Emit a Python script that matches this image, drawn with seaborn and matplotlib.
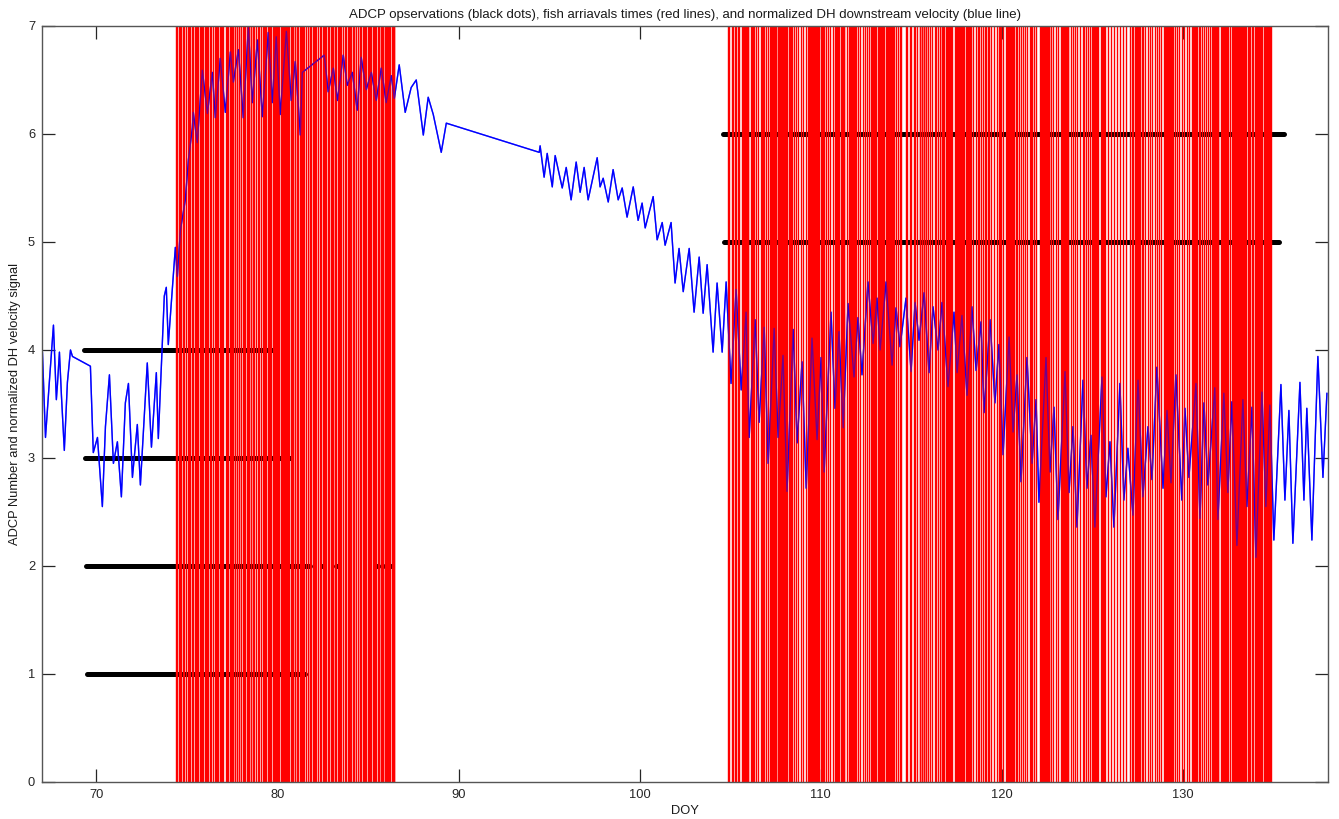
import matplotlib
matplotlib.use("Agg")
import matplotlib.pyplot as plt
import seaborn as sns

# ---- normalized DH downstream velocity (DOY, signal) ----
vel_doy = [
    67.02, 67.19, 67.41, 67.63, 67.79, 67.85, 67.96, 68.07, 68.23, 68.40,
    68.57, 68.68, 69.67, 69.83, 70.06, 70.33, 70.50, 70.72, 70.94, 71.16,
    71.38, 71.60, 71.77, 71.99, 72.26, 72.43, 72.81, 73.04, 73.31, 73.42,
    73.75, 73.86, 73.97, 74.19, 74.36, 74.47, 74.64, 74.91, 75.08, 75.30,
    75.35, 75.57, 75.85, 76.13, 76.40, 76.57, 76.84, 77.12, 77.40, 77.56,
    77.84, 78.11, 78.39, 78.61, 78.89, 79.16, 79.49, 79.71, 79.93, 80.15,
    80.49, 80.76, 80.98, 81.26, 81.37, 82.58, 82.80, 83.08, 83.31, 83.63,
    83.85, 84.13, 84.40, 84.62, 84.90, 85.18, 85.45, 85.73, 86.00, 86.28,
    86.45, 86.72, 87.05, 87.38, 87.66, 88.05, 88.32, 88.60, 89.04, 89.32,
    94.45, 94.50, 94.72, 94.89, 95.17, 95.33, 95.72, 95.94, 96.21, 96.49,
    96.71, 96.93, 97.15, 97.65, 97.81, 97.98, 98.26, 98.53, 98.81, 99.03,
    99.30, 99.64, 99.91, 100.13, 100.30, 100.74, 100.96, 101.24, 101.40, 101.73,
    101.95, 102.17, 102.40, 102.73, 103.00, 103.28, 103.50, 103.72, 104.05, 104.27,
    104.55, 104.77, 105.04, 105.32, 105.60, 105.87, 106.04, 106.37, 106.59, 106.87,
    107.09, 107.42, 107.64, 107.91, 108.13, 108.47, 108.69, 108.96, 109.19, 109.51,
    109.79, 110.01, 110.18, 110.56, 110.78, 111.00, 111.23, 111.50, 111.83, 112.05,
    112.27, 112.60, 112.88, 113.10, 113.27, 113.60, 113.93, 114.15, 114.37, 114.70,
    114.98, 115.20, 115.42, 115.70, 115.97, 116.19, 116.47, 116.69, 117.02, 117.35,
    117.52, 117.79, 118.07, 118.34, 118.57, 118.84, 119.01, 119.34, 119.61, 119.83,
    120.06, 120.39, 120.61, 120.83, 121.05, 121.38, 121.66, 121.88, 122.04, 122.43,
    122.65, 122.87, 123.09, 123.48, 123.70, 123.92, 124.14, 124.47, 124.69, 124.91,
    125.13, 125.52, 125.74, 125.96, 126.18, 126.51, 126.73, 126.95, 127.23, 127.51,
    127.78, 128.06, 128.28, 128.55, 128.89, 129.11, 129.33, 129.60, 129.93, 130.10,
    130.32, 130.71, 130.93, 131.15, 131.37, 131.75, 131.92, 132.25, 132.47, 132.69,
    132.97, 133.30, 133.52, 133.80, 134.02, 134.35, 134.57, 134.79, 135.01, 135.40,
    135.62, 135.84, 136.06, 136.45, 136.67, 136.83, 137.11, 137.44, 137.72, 137.94,
]
vel_signal = [
    3.98, 3.19, 3.72, 4.23, 3.54, 3.68, 3.98, 3.58, 3.07, 3.70,
    4.00, 3.94, 3.85, 3.05, 3.19, 2.55, 3.29, 3.77, 2.95, 3.15,
    2.64, 3.51, 3.69, 2.82, 3.31, 2.75, 3.88, 3.10, 3.79, 3.18,
    4.50, 4.58, 4.05, 4.56, 4.95, 4.68, 5.11, 5.39, 5.76, 6.06,
    6.20, 5.92, 6.59, 6.19, 6.57, 6.15, 6.70, 6.20, 6.76, 6.48,
    6.78, 6.15, 6.99, 6.29, 6.87, 6.16, 6.94, 6.29, 6.90, 6.18,
    6.95, 6.31, 6.67, 5.99, 6.57, 6.73, 6.39, 6.61, 6.31, 6.73,
    6.45, 6.57, 6.22, 6.71, 6.41, 6.57, 6.31, 6.61, 6.29, 6.54,
    6.33, 6.64, 6.20, 6.43, 6.50, 5.99, 6.34, 6.18, 5.83, 6.10,
    5.83, 5.89, 5.60, 5.82, 5.51, 5.80, 5.50, 5.69, 5.39, 5.74,
    5.46, 5.69, 5.39, 5.78, 5.51, 5.59, 5.37, 5.67, 5.39, 5.50,
    5.23, 5.51, 5.20, 5.36, 5.13, 5.42, 5.02, 5.18, 4.97, 5.18,
    4.62, 4.94, 4.54, 4.94, 4.35, 4.86, 4.34, 4.79, 3.98, 4.62,
    3.98, 4.63, 3.69, 4.56, 3.63, 4.35, 3.19, 4.28, 3.33, 4.21,
    2.95, 4.20, 3.19, 3.95, 2.69, 4.19, 3.14, 3.89, 2.72, 4.11,
    3.17, 3.93, 2.87, 4.35, 3.46, 4.17, 3.28, 4.43, 3.75, 4.30,
    3.77, 4.63, 4.06, 4.48, 4.00, 4.63, 3.86, 4.39, 4.03, 4.48,
    3.80, 4.44, 4.09, 4.53, 3.79, 4.40, 4.00, 4.44, 3.66, 4.35,
    3.79, 4.32, 3.58, 4.40, 3.81, 4.26, 3.42, 4.28, 3.51, 4.05,
    3.03, 4.12, 3.24, 3.77, 2.78, 3.93, 2.95, 3.54, 2.59, 3.93,
    2.87, 3.47, 2.43, 3.80, 2.68, 3.29, 2.36, 3.72, 2.72, 3.21,
    2.36, 3.75, 2.64, 3.15, 2.36, 3.69, 2.61, 3.09, 2.47, 3.72,
    2.64, 3.29, 2.80, 3.84, 2.72, 3.44, 2.77, 3.77, 2.61, 3.46,
    2.82, 3.69, 2.44, 3.51, 2.75, 3.65, 2.43, 3.60, 2.68, 3.52,
    2.19, 3.54, 2.55, 3.47, 2.08, 3.61, 2.55, 3.49, 2.24, 3.68,
    2.61, 3.44, 2.21, 3.70, 2.61, 3.46, 2.24, 3.94, 2.82, 3.60,
]

# ---- ADCP observation periods (instrument number, first DOY, last DOY) ----
obs_level = [1, 2, 2, 2, 2, 2, 2, 3, 4, 5, 6]
obs_start = [69.50, 69.45, 82.45, 83.22, 85.48, 85.76, 86.20, 69.39, 69.34, 104.66, 104.62]
obs_end = [81.53, 81.81, 82.50, 83.27, 85.53, 85.80, 86.24, 80.76, 79.99, 135.29, 135.56]

# ---- fish arrival times (DOY) ----
fish_arrivals_early = [
    74.38, 74.44, 74.55, 74.62, 74.69, 74.76, 74.86, 74.97, 75.06, 75.13,
    75.18, 75.27, 75.32, 75.42, 75.48, 75.56, 75.60, 75.70, 75.75, 75.83,
    75.90, 75.97, 76.07, 76.13, 76.19, 76.25, 76.31, 76.43, 76.53, 76.59,
    76.65, 76.70, 76.80, 76.89, 76.95, 76.99, 77.13, 77.19, 77.25, 77.36,
    77.45, 77.51, 77.57, 77.63, 77.68, 77.77, 77.85, 77.90, 78.00, 78.09,
    78.13, 78.22, 78.33, 78.38, 78.42, 78.51, 78.55, 78.64, 78.70, 78.80,
    78.90, 79.00, 79.08, 79.18, 79.23, 79.32, 79.37, 79.47, 79.52, 79.56,
    79.65, 79.74, 79.80, 79.87, 79.92, 79.98, 80.03, 80.08, 80.17, 80.26,
    80.31, 80.37, 80.42, 80.47, 80.52, 80.57, 80.66, 80.76, 80.81, 80.85,
    80.94, 80.99, 81.09, 81.13, 81.22, 81.27, 81.36, 81.40, 81.49, 81.58,
    81.67, 81.77, 81.82, 81.86, 81.95, 82.01, 82.07, 82.13, 82.23, 82.32,
    82.41, 82.50, 82.54, 82.63, 82.68, 82.78, 82.87, 82.93, 82.99, 83.05,
    83.15, 83.20, 83.24, 83.33, 83.39, 83.45, 83.51, 83.60, 83.70, 83.80,
    83.89, 83.97, 84.02, 84.07, 84.16, 84.21, 84.25, 84.34, 84.44, 84.53,
    84.58, 84.62, 84.71, 84.80, 84.85, 84.90, 84.99, 85.04, 85.13, 85.17,
    85.26, 85.30, 85.39, 85.44, 85.54, 85.59, 85.63, 85.72, 85.77, 85.82,
    85.91, 85.96, 86.01, 86.06, 86.10, 86.18, 86.22, 86.31, 86.36, 86.41,
    86.44,
]
fish_arrivals_late = [
    104.88, 104.95, 105.07, 105.13, 105.25, 105.31, 105.44, 105.50, 105.62, 105.68,
    105.73, 105.79, 105.84, 105.90, 105.95, 106.00, 106.12, 106.17, 106.23, 106.28,
    106.33, 106.42, 106.52, 106.69, 106.74, 106.79, 106.84, 106.96, 107.07, 107.18,
    107.23, 107.28, 107.34, 107.39, 107.44, 107.50, 107.55, 107.61, 107.70, 107.75,
    107.81, 107.86, 107.91, 107.97, 108.02, 108.08, 108.13, 108.25, 108.30, 108.35,
    108.40, 108.50, 108.62, 108.75, 108.89, 109.03, 109.17, 109.30, 109.35, 109.41,
    109.46, 109.52, 109.57, 109.62, 109.68, 109.73, 109.79, 109.84, 109.89, 110.00,
    110.05, 110.10, 110.20, 110.30, 110.40, 110.50, 110.66, 110.77, 110.82, 110.87,
    110.93, 110.98, 111.10, 111.15, 111.20, 111.25, 111.30, 111.42, 111.56, 111.61,
    111.67, 111.72, 111.78, 111.83, 111.88, 111.93, 112.06, 112.18, 112.30, 112.43,
    112.55, 112.67, 112.79, 112.84, 112.90, 112.95, 113.00, 113.05, 113.16, 113.21,
    113.26, 113.31, 113.36, 113.41, 113.51, 113.62, 113.67, 113.73, 113.78, 113.84,
    113.89, 113.95, 114.00, 114.05, 114.15, 114.25, 114.35, 114.44, 114.68, 114.78,
    114.90, 115.00, 115.12, 115.22, 115.33, 115.45, 115.50, 115.56, 115.61, 115.67,
    115.72, 115.78, 115.83, 115.89, 116.03, 116.16, 116.28, 116.38, 116.44, 116.55,
    116.66, 116.71, 116.77, 116.82, 116.93, 116.98, 117.04, 117.09, 117.15, 117.20,
    117.26, 117.39, 117.44, 117.50, 117.55, 117.61, 117.66, 117.71, 117.77, 117.82,
    117.87, 117.92, 118.04, 118.09, 118.15, 118.20, 118.25, 118.29, 118.41, 118.55,
    118.65, 118.75, 118.86, 118.96, 119.05, 119.11, 119.23, 119.29, 119.42, 119.55,
    119.70, 119.84, 119.89, 119.94, 120.07, 120.21, 120.27, 120.32, 120.38, 120.43,
    120.48, 120.54, 120.59, 120.64, 120.76, 120.82, 120.93, 121.03, 121.15, 121.27,
    121.40, 121.53, 121.59, 121.65, 121.77, 121.90, 122.08, 122.13, 122.19, 122.24,
    122.30, 122.35, 122.41, 122.46, 122.52, 122.57, 122.62, 122.72, 122.80, 122.98,
    123.11, 123.24, 123.29, 123.35, 123.40, 123.46, 123.51, 123.57, 123.62, 123.67,
    123.79, 123.92, 124.03, 124.16, 124.30, 124.45, 124.55, 124.66, 124.76, 124.86,
    124.99, 125.04, 125.10, 125.15, 125.21, 125.26, 125.32, 125.45, 125.51, 125.56,
    125.62, 125.67, 125.84, 126.02, 126.21, 126.37, 126.51, 126.67, 126.86, 127.05,
    127.15, 127.25, 127.35, 127.41, 127.46, 127.52, 127.57, 127.63, 127.75, 127.80,
    127.92, 128.05, 128.18, 128.30, 128.42, 128.55, 128.68, 128.80, 128.93, 128.98,
    129.04, 129.09, 129.15, 129.20, 129.26, 129.31, 129.37, 129.42, 129.55, 129.66,
    129.78, 129.92, 130.05, 130.19, 130.33, 130.48, 130.53, 130.59, 130.64, 130.70,
    130.75, 130.85, 130.95, 131.06, 131.16, 131.27, 131.37, 131.48, 131.58, 131.63,
    131.69, 131.74, 131.80, 131.85, 131.90, 131.95, 132.07, 132.12, 132.18, 132.23,
    132.29, 132.34, 132.40, 132.50, 132.58, 132.72, 132.78, 132.83, 132.89, 132.94,
    133.00, 133.05, 133.11, 133.16, 133.22, 133.27, 133.33, 133.38, 133.43, 133.48,
    133.60, 133.66, 133.72, 133.78, 133.84, 133.97, 134.03, 134.08, 134.14, 134.19,
    134.25, 134.30, 134.35, 134.46, 134.52, 134.57, 134.63, 134.68, 134.74, 134.79,
    134.84,
]

x_ticks = [70, 80, 90, 100, 110, 120, 130]
y_ticks = [0, 1, 2, 3, 4, 5, 6, 7]

title_text = ("ADCP opservations (black dots), fish arriavals times (red lines), "
              "and normalized DH downstream velocity (blue line)")

sns.set_style("ticks")
plt.rcParams["font.family"] = ["Liberation Sans", "DejaVu Sans"]

fig = plt.figure(figsize=(13.39, 8.19), dpi=100)
ax = fig.add_axes([0.0314, 0.0452, 0.9604, 0.9231])

# ADCP observation rows
obs = ax.hlines(obs_level, obs_start, obs_end, colors="black", linewidth=3.6, zorder=1)
obs.set_capstyle("round")

# velocity trace (opaque underneath, translucent copy on top of the arrival lines)
sns.lineplot(x=vel_doy, y=vel_signal, ax=ax, color="#0000ff", linewidth=1.0,
             estimator=None, sort=False, zorder=2)
sns.lineplot(x=vel_doy, y=vel_signal, ax=ax, color="#0000ff", linewidth=1.0,
             alpha=0.55, estimator=None, sort=False, zorder=4)

# fish arrivals
ax.vlines(fish_arrivals_early + fish_arrivals_late, 0, 7, colors="#ff0000",
          linewidth=1.0, zorder=3)

ax.set_xlim(67, 138)
ax.set_ylim(0, 7)
ax.set_xticks(x_ticks)
ax.set_yticks(y_ticks)
ax.tick_params(direction="in", length=9.4, width=0.9, top=True, right=True,
               labelsize=9.3, colors="#262626", pad=5)
for side in ax.spines.values():
    side.set_color("#555555")
    side.set_linewidth(1.0)
    side.set_zorder(5)

ax.set_title(title_text, fontsize=9.5, color="#1a1a1a", pad=6)
ax.set_xlabel("DOY", fontsize=9.3, color="#1a1a1a", labelpad=3)
ax.set_ylabel("ADCP Number and normalized DH velocity signal", fontsize=9.3,
              color="#1a1a1a", labelpad=5)

fig.savefig("out.png", dpi=100)
